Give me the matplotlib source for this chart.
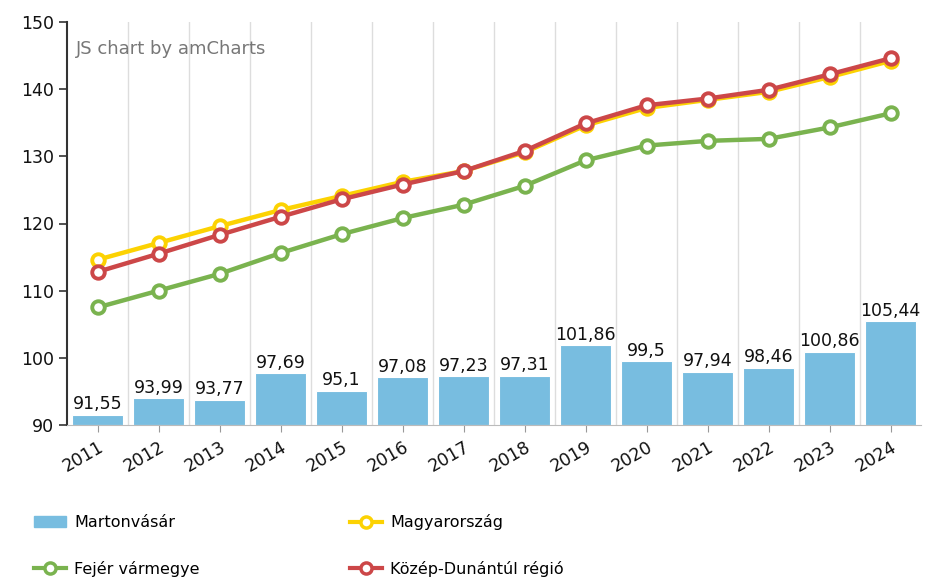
import numpy as np
import matplotlib.pyplot as plt
from matplotlib.lines import Line2D
from matplotlib.patches import Patch

# Évek és sorozatok
evek = [2011, 2012, 2013, 2014, 2015, 2016, 2017, 2018, 2019, 2020, 2021, 2022, 2023, 2024]
martonvasar = [91.55, 93.99, 93.77, 97.69, 95.1, 97.08, 97.23, 97.31, 101.86, 99.5, 97.94, 98.46, 100.86, 105.44]
magyarorszag = [114.6, 117.1, 119.6, 122.0, 124.1, 126.2, 127.8, 130.6, 134.6, 137.2, 138.4, 139.6, 141.8, 144.2]
fejer = [107.5, 110.0, 112.5, 115.6, 118.4, 120.8, 122.8, 125.6, 129.4, 131.6, 132.3, 132.6, 134.3, 136.4]
kozep_dunantul = [112.8, 115.5, 118.3, 121.0, 123.6, 125.8, 127.8, 130.8, 134.9, 137.6, 138.6, 139.9, 142.2, 144.6]

szin_oszlop = '#78bde0'
szin_sarga = '#fcd202'
szin_zold = '#7ab34f'
szin_piros = '#cc4748'

fig = plt.figure(figsize=(9.25, 5.81), dpi=100)
ax = fig.add_axes([67 / 925, 156 / 581, 854 / 925, 403 / 581])

x = np.arange(len(evek))
also = 90
ax.bar(x, np.array(martonvasar) - also, bottom=also, width=0.82,
       color=szin_oszlop, edgecolor='white', linewidth=0.8, zorder=2)
for xi, v in zip(x, martonvasar):
    ax.text(xi, v + 0.25, f'{v:g}'.replace('.', ','), ha='center', va='bottom',
            fontsize=12.5, color='#111111', zorder=5)

vonal = dict(linewidth=3.2, marker='o', markersize=9, markerfacecolor='white',
             markeredgewidth=2.8, zorder=4)
ax.plot(x, fejer, color=szin_zold, **vonal)
ax.plot(x, magyarorszag, color=szin_sarga, **vonal)
ax.plot(x, kozep_dunantul, color=szin_piros, **vonal)

ax.set_xlim(-0.5, len(evek) - 0.5)
ax.set_ylim(90, 150)
ax.set_yticks(range(90, 151, 10))
ax.set_xticks(x)
ax.set_xticklabels([str(e) for e in evek], rotation=30, ha='right',
                   rotation_mode='anchor')

# függőleges rácsvonalak a kategóriák határain
for g in np.arange(0.5, len(evek) - 0.5, 1):
    ax.axvline(g, color='#dddddd', linewidth=1, zorder=1)

for s in ['top', 'right']:
    ax.spines[s].set_visible(False)
ax.spines['left'].set_color('#333333')
ax.spines['left'].set_linewidth(1.5)
ax.spines['bottom'].set_color('#bbbbbb')
ax.tick_params(axis='y', labelsize=12.5, length=6, width=1.2, color='#333333',
               labelcolor='#111111')
ax.tick_params(axis='x', labelsize=12.5, length=5, color='#999999', pad=4,
               labelcolor='#111111')

ax.text(0.01, 0.955, 'JS chart by amCharts', transform=ax.transAxes,
        fontsize=13, color='#777777', va='top', ha='left')

fogantyuk = [
    Patch(facecolor=szin_oszlop, edgecolor=szin_oszlop),
    Line2D([], [], color=szin_zold, linewidth=3, marker='o', markersize=8,
           markerfacecolor='white', markeredgewidth=2.5),
    Line2D([], [], color=szin_sarga, linewidth=3, marker='o', markersize=8,
           markerfacecolor='white', markeredgewidth=2.5),
    Line2D([], [], color=szin_piros, linewidth=3, marker='o', markersize=8,
           markerfacecolor='white', markeredgewidth=2.5),
]
cimkek = ['Martonvásár', 'Fejér vármegye', 'Magyarország', 'Közép-Dunántúl régió']
fig.legend(fogantyuk, cimkek, loc='upper left', bbox_to_anchor=(20 / 925, 1 - 500 / 581),
           ncol=2, frameon=False, fontsize=11.5, handlelength=2.0,
           handletextpad=0.5, columnspacing=9.4, labelspacing=1.9)

fig.savefig('out.png', dpi=100)
